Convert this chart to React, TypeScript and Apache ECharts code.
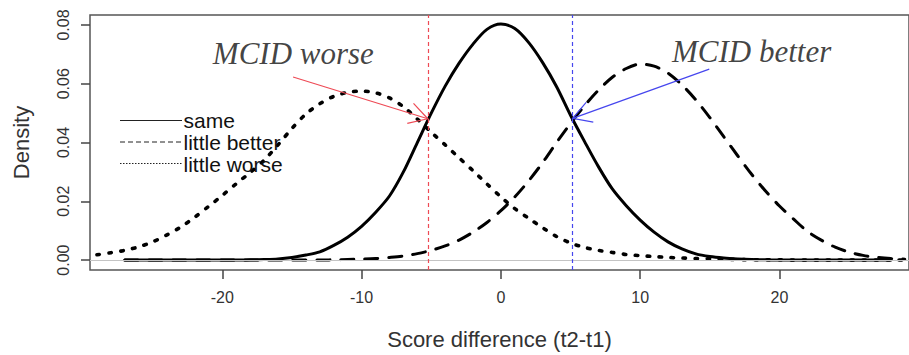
import React, { useEffect, useRef } from "react";
import * as echarts from "echarts";

const scoreDiff = [
  -29, -28, -27, -26, -25, -24, -23, -22, -21, -20,
  -19, -18, -17, -16, -15, -14, -13, -12, -11, -10,
  -9, -8, -7, -6, -5, -4, -3, -2, -1, 0,
  1, 2, 3, 4, 5, 6, 7, 8, 9, 10,
  11, 12, 13, 14, 15, 16, 17, 18, 19, 20,
  21, 22, 23, 24, 25, 26, 27, 28, 29,
];

// "same" (solid)
const sameDensity = [
  null, null, 0, 0, 0, 0, 0, 0, 0, 0,
  0, 0.0001, 0.0002, 0.0004, 0.0009, 0.0017, 0.0028, 0.005, 0.0078, 0.0115,
  0.0162, 0.0218, 0.03, 0.04, 0.05, 0.0592, 0.067, 0.0735, 0.0785, 0.0803,
  0.0788, 0.074, 0.0672, 0.059, 0.0493, 0.0404, 0.0318, 0.0242, 0.0185, 0.0136,
  0.0095, 0.0062, 0.0038, 0.0021, 0.0012, 0.0007, 0.0004, 0.0002, 0.0001, 0,
  0, 0, 0, 0, 0, 0, 0, 0, null,
];

// "little better" (dashed)
const betterDensity = [
  null, null, 0, 0, 0, 0, 0, 0, 0, 0,
  0, 0, 0, 0, 0, 0, 0, 0.0001, 0.0002, 0.0003,
  0.0005, 0.0009, 0.0014, 0.0022, 0.0033, 0.0048, 0.0068, 0.0095, 0.0128, 0.0168,
  0.0215, 0.027, 0.0332, 0.04, 0.0465, 0.0525, 0.0578, 0.0622, 0.0652, 0.0667,
  0.066, 0.0636, 0.0596, 0.0545, 0.0485, 0.042, 0.0355, 0.0292, 0.0235, 0.0184,
  0.014, 0.0098, 0.0068, 0.0044, 0.0027, 0.0016, 0.0009, 0.0005, 0.0003,
];

// "little worse" (dotted)
const worseDensity = [
  0.0018, 0.0025, 0.0033, 0.0045, 0.0062, 0.0085, 0.0112, 0.0145, 0.0182, 0.022,
  0.026, 0.0298, 0.034, 0.0392, 0.0448, 0.0497, 0.0532, 0.0557, 0.0571, 0.0575,
  0.0569, 0.0552, 0.0522, 0.048, 0.0435, 0.0392, 0.0348, 0.0304, 0.0259, 0.0215,
  0.0175, 0.0142, 0.011, 0.008, 0.0058, 0.0043, 0.0033, 0.0026, 0.0019, 0.0015,
  0.0012, 0.0009, 0.0007, 0.0005, 0.0004, 0.0003, 0.0002, 0.0001, 0.0001, 0.0001,
  0, 0, 0, 0, 0, 0, 0, 0, 0,
];

const seriesNames = ["same", "little better", "little worse"];
const xTicks = [-20, -10, 0, 10, 20];
const yTicks = [0, 0.02, 0.04, 0.06, 0.08];

// MCID annotations
const mcidNames = ["MCID worse", "MCID better"];
const mcidCut = [-5.25, 5.15];
const mcidColors = ["#ee4a55", "#4646ee"];
const arrowFromX = [-14.92, 14.96];
const arrowFromY = [0.0623, 0.065];
const arrowToY = [0.0481, 0.0482];
const mcidLabelX = [-14.9, 18.0];
const mcidLabelY = [0.0702, 0.0709];

const FONT = "Liberation Sans";

function zip(ys: (number | null)[]) {
  return scoreDiff.map((x, i) => [x, ys[i]]);
}

export default function App() {
  const ref = useRef<HTMLDivElement>(null);
  useEffect(() => {
    const chart = echarts.init(ref.current!, null, { renderer: "svg" });
    const legendY = [120.5, 142, 163.5];
    const legendTextY = [120.5, 142.5, 164.5];
    const legendDash: any[] = [null, [5, 3], [1.5, 1.5]];
    const graphic: any[] = [];
    seriesNames.forEach((n, i) => {
      graphic.push({
        type: "line",
        shape: { x1: 120, y1: legendY[i], x2: 182, y2: legendY[i] },
        style: { stroke: "#222", lineWidth: 1, lineDash: legendDash[i] },
        z: 50,
      });
      graphic.push({
        type: "text",
        x: 183.5,
        y: legendTextY[i],
        style: { text: n, fontSize: 21, fontFamily: FONT, fill: "#111", verticalAlign: "middle", lineHeight: 21 },
        z: 50,
      });
    });

    const curveStyles: any[] = [
      { type: "solid", width: 3 },
      { type: [13, 11], width: 3 },
      { type: [2.5, 9.5], width: 3.6 },
    ];
    const curveData = [sameDensity, betterDensity, worseDensity];

    const option: any = {
      animation: false,
      backgroundColor: "#ffffff",
      grid: {
        left: 90,
        top: 15,
        width: 820,
        height: 256.7,
        show: true,
        borderColor: "#555",
        borderWidth: 1.5,
        backgroundColor: "transparent",
      },
      xAxis: {
        type: "value",
        min: -29.5,
        max: 29.3,
        axisLine: { show: false, onZero: false },
        splitLine: { show: false },
        axisTick: { show: true, inside: false, length: 9, customValues: xTicks, lineStyle: { color: "#444", width: 1.5 } },
        axisLabel: { customValues: xTicks, margin: 19, fontSize: 16, color: "#333", fontFamily: FONT },
        name: "Score difference (t2-t1)",
        nameLocation: "middle",
        nameGap: 58,
        nameTextStyle: { fontSize: 22, color: "#333", fontFamily: FONT },
      },
      yAxis: {
        type: "value",
        min: -0.00338,
        max: 0.0834,
        axisLine: { show: false, onZero: false },
        splitLine: { show: false },
        axisTick: { show: true, inside: false, length: 9, customValues: yTicks, lineStyle: { color: "#444", width: 1.5 } },
        axisLabel: {
          customValues: yTicks,
          rotate: 90,
          margin: 19,
          fontSize: 16,
          color: "#333",
          fontFamily: FONT,
          formatter: (v: number) => v.toFixed(2),
        },
        name: "Density",
        nameLocation: "middle",
        nameRotate: 90,
        nameGap: 58,
        nameTextStyle: { fontSize: 22, color: "#333", fontFamily: FONT },
      },
      graphic,
      series: [
        {
          type: "line",
          data: [],
          z: 1,
          silent: true,
          markLine: {
            silent: true,
            symbol: ["none", "none"],
            label: { show: false },
            lineStyle: { color: "#c4c4c4", width: 1, type: "solid" },
            data: [{ yAxis: 0 }],
          },
        },
        ...seriesNames.map((n, i) => ({
          name: n,
          type: "line",
          data: zip(curveData[i]),
          showSymbol: false,
          smooth: 0.3,
          z: 3,
          connectNulls: false,
          lineStyle: { color: "#000", cap: "round", join: "round", ...curveStyles[i] },
        })),
        {
          type: "custom",
          z: 4,
          silent: true,
          renderItem: (params: any, api: any) => {
            const p0 = api.coord([api.value(0), api.value(1)]);
            const p1 = api.coord([api.value(2), api.value(3)]);
            const color = api.visual("color");
            const ang = Math.atan2(p1[1] - p0[1], p1[0] - p0[0]);
            const L = 21;
            const h = Math.PI / 6;
            const b1 = [p1[0] - L * Math.cos(ang - h), p1[1] - L * Math.sin(ang - h)];
            const b2 = [p1[0] - L * Math.cos(ang + h), p1[1] - L * Math.sin(ang + h)];
            return {
              type: "group",
              children: [
                { type: "line", shape: { x1: p0[0], y1: p0[1], x2: p1[0], y2: p1[1] }, style: { stroke: color, lineWidth: 1.2 } },
                { type: "polyline", shape: { points: [b1, p1, b2] }, style: { stroke: color, fill: "none", lineWidth: 1.2 } },
              ],
            };
          },
          data: arrowFromX.map((x, i) => ({
            value: [x, arrowFromY[i], mcidCut[i], arrowToY[i]],
            itemStyle: { color: mcidColors[i] },
          })),
          markLine: {
            silent: true,
            symbol: ["none", "none"],
            label: { show: false },
            lineStyle: { width: 1.2, type: [4, 3] },
            data: mcidCut.map((c, i) => ({ xAxis: c, lineStyle: { color: mcidColors[i], width: 1.2, type: [4, 3] } })),
          },
        },
        {
          type: "scatter",
          z: 5,
          silent: true,
          symbolSize: 1,
          itemStyle: { color: "transparent" },
          data: mcidNames.map((n, i) => ({ name: n, value: [mcidLabelX[i], mcidLabelY[i]] })),
          label: {
            show: true,
            position: "inside",
            formatter: "{b}",
            fontFamily: "Liberation Serif",
            fontStyle: "italic",
            fontSize: 31,
            color: "#111",
          },
        },
      ],
    };
    chart.setOption(option);
    return () => chart.dispose();
  }, []);
  return (
    <div
      ref={ref}
      style={{ position: "fixed", left: 0, top: 0, width: 909, height: 355, background: "#fff" }}
    />
  );
}
